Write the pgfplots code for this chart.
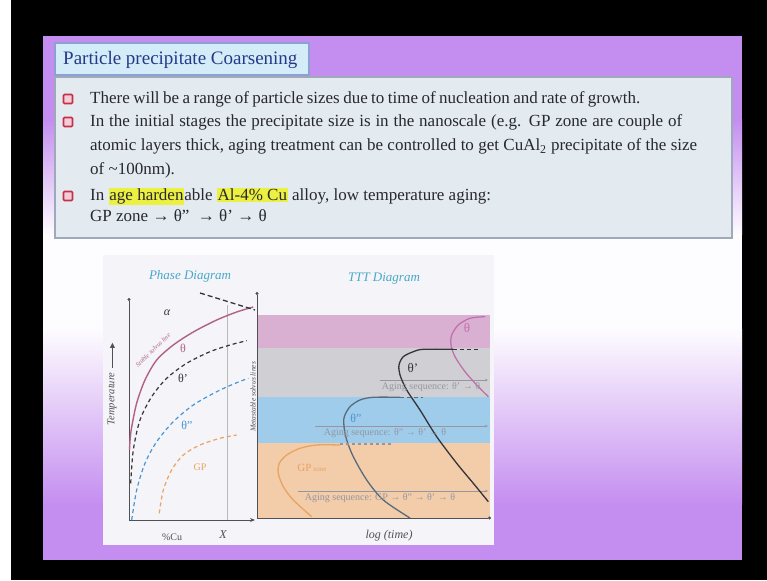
\documentclass[border=0pt]{standalone}
\usepackage{fontspec}
\setmainfont{Liberation Serif}
\newfontfamily\symfont{DejaVu Sans}
\usepackage{xcolor}
\usepackage{pgfplots}
\pgfplotsset{compat=1.18}
\usetikzlibrary{arrows.meta}

\definecolor{slidepurple}{RGB}{196,142,240}
\definecolor{boxfill}{RGB}{227,234,240}
\definecolor{boxline}{RGB}{160,168,188}
\definecolor{titlefill}{RGB}{212,236,248}
\definecolor{titleline}{RGB}{140,160,212}
\definecolor{titletext}{RGB}{38,56,136}
\definecolor{bodytext}{RGB}{40,40,46}
\definecolor{bulletred}{RGB}{196,48,72}
\definecolor{bulletfill}{RGB}{246,204,214}
\definecolor{hl}{RGB}{236,240,64}
\definecolor{panel}{RGB}{245,244,248}
\definecolor{axisgray}{RGB}{80,80,86}
\definecolor{solvus}{RGB}{176,98,134}
\definecolor{thetap}{RGB}{52,52,58}
\definecolor{thetapp}{RGB}{72,150,212}
\definecolor{gpcol}{RGB}{232,164,96}
\definecolor{bandpink}{RGB}{218,176,210}
\definecolor{bandgray}{RGB}{208,208,212}
\definecolor{bandblue}{RGB}{158,204,234}
\definecolor{bandorange}{RGB}{243,204,170}
\definecolor{tttpink}{RGB}{192,112,172}
\definecolor{tttslate}{RGB}{88,108,124}
\definecolor{agegray}{RGB}{150,150,158}
\definecolor{diagtitle}{RGB}{70,168,200}

\newcommand\bodyfont{\fontsize{17}{20}\selectfont}
\setlength{\fboxsep}{0.8pt}

\begin{document}
\begin{tikzpicture}[x=1pt,y=1pt]
\path[use as bounding box] (0,0) rectangle (767,580);
\fill[black] (0,0) rectangle (767,580);
\fill[white] (0,0) rectangle (11,580);

% slide background
\fill[slidepurple] (43,460) rectangle (742,544);
\shade[top color=slidepurple, bottom color=white!97!slidepurple] (43,345) rectangle (742,460.5);
\fill[white!97!slidepurple] (43,250) rectangle (742,345.5);
\shade[top color=white!97!slidepurple, bottom color=slidepurple] (43,75) rectangle (742,250.5);
\fill[slidepurple] (43,20) rectangle (742,75.5);

% text box and title box
\filldraw[fill=boxfill, draw=boxline, line width=1.4pt] (55,342) rectangle (732,503);
\filldraw[fill=titlefill, draw=titleline, line width=1.4pt] (55,505) rectangle (309,537);
\node[anchor=base west, inner sep=0, text=titletext] at (63,515)
  {\fontsize{19}{22}\selectfont Particle precipitate Coarsening};

% bullets
\foreach \b in {476,453,379}
  \filldraw[fill=bulletfill, draw=bulletred, line width=1.6pt, rounded corners=1pt]
    (63.5,\b+0.5) rectangle (72.5,\b+9.5);

\begin{scope}[every node/.style={anchor=base west, inner sep=0, text=bodytext}]
\node at (90,476) {\bodyfont\makebox[550pt][s]{There will be a range of particle sizes due to time of nucleation and rate of growth.}};
\node at (90,453) {\bodyfont\makebox[592pt][s]{In the initial stages the precipitate size is in the nanoscale (e.g. GP zone are couple of}};
\node at (90,429) {\bodyfont\makebox[607pt][s]{atomic layers thick, aging treatment can be controlled to get CuAl\textsubscript{2} precipitate of the size}};
\node at (90,405) {\bodyfont of \textasciitilde100nm).};
\node at (90,379) {\bodyfont In \colorbox{hl}{age harden}able \colorbox{hl}{Al-4\% Cu} alloy, low temperature aging:};
\node at (90,358) {\bodyfont GP zone → θ'' \ → θ' → θ};
\end{scope}

% diagram panel
\fill[panel] (103,35) rectangle (494,325);

% titles and outer labels
\node[text=diagtitle] at (190,304) {\fontsize{13}{15}\selectfont\itshape Phase Diagram};
\node[text=diagtitle] at (384,301) {\fontsize{13}{15}\selectfont\itshape TTT Diagram};
\node[rotate=90, text=axisgray] at (112,196) {\fontsize{10.5}{12}\selectfont\itshape Temperature \,\rule[0.3ex]{22pt}{0.6pt}\kern-2pt{\upshape\symfont\fontsize{7}{8}\selectfont ▶}};
\node[text=axisgray] at (172,43) {\fontsize{10}{11}\selectfont \%Cu};
\node[text=axisgray] at (223,45) {\fontsize{12}{13}\selectfont\itshape X};
\node[text=axisgray] at (389,44) {\fontsize{12}{13}\selectfont\itshape log (time)};

% phase diagram: composition against temperature
\begin{axis}[
  at={(129pt,60pt)}, anchor=south west,
  scale only axis, width=126pt, height=222pt,
  xmin=0, xmax=126, ymin=0, ymax=222,
  axis lines=left,
  axis line style={draw=axisgray, line width=0.9pt},
  x axis line style={-{Stealth[length=5pt,width=4pt]}},
  y axis line style={-{Circle[length=3pt]}},
  xtick=\empty, ytick=\empty, clip=false,
]
\addplot[gray!55, line width=0.5pt] coordinates {(98,0) (98,215)};
\addplot[solvus, line width=1.4pt, smooth] coordinates {
  (0.5,70) (1.2,82) (2.7,93) (7.7,117) (16,140) (27.7,160) (44.3,175)
  (64.3,188) (87.7,200) (107.7,208) (124.3,213)};
\addplot[thetap, line width=1.3pt, dash pattern=on 5pt off 3pt] coordinates {(71,227) (126,210)};
\addplot[thetap, line width=1.2pt, dash pattern=on 4pt off 3pt, smooth] coordinates {
  (1.7,36.7) (4.3,70) (11,100) (22.7,123.3) (37.7,141.7) (57.7,156.7)
  (81,168.3) (101,175) (117.7,179.3)};
\addplot[thetapp, line width=1.2pt, dash pattern=on 4pt off 3pt, smooth] coordinates {
  (2.7,0) (7.7,30) (16,56.7) (27.7,78.3) (44.3,98.3) (64.3,115)
  (87.7,128.3) (107.7,137.3) (119.3,141.7)};
\addplot[gpcol, line width=1.2pt, dash pattern=on 4pt off 3pt, smooth] coordinates {
  (30.3,6.7) (34.3,30) (42.7,50) (54.3,65) (71,75) (91,81.7) (107.7,85)};
\node[text=thetap] at (axis cs:38,207) {\fontsize{12}{13}\selectfont\itshape α};
\node[text=solvus, rotate=44, inner sep=0] at (axis cs:24,170) {\fontsize{6.5}{7}\selectfont\itshape Stable solvus line};
\node[text=solvus] at (axis cs:54,172) {\fontsize{12}{13}\selectfont θ};
\node[text=thetap] at (axis cs:54,142) {\fontsize{12}{13}\selectfont θ'};
\node[text=thetapp] at (axis cs:58,95) {\fontsize{12}{13}\selectfont θ''};
\node[text=gpcol] at (axis cs:71,53) {\fontsize{10}{11}\selectfont GP};
\node[text=axisgray, rotate=90] at (axis cs:124,123) {\fontsize{7.5}{8}\selectfont\itshape Metastable solvus lines};
\end{axis}

% TTT diagram: log time against temperature
\begin{axis}[
  at={(257pt,62pt)}, anchor=south west,
  scale only axis, width=234pt, height=226pt,
  xmin=0, xmax=234, ymin=0, ymax=226,
  axis lines=left, axis on top,
  axis line style={draw=axisgray, line width=0.9pt},
  x axis line style={-{Circle[length=3pt]}},
  y axis line style={-{Circle[length=3pt]}},
  xtick=\empty, ytick=\empty, clip=false,
]
\addplot[draw=none, fill=bandpink] coordinates {(0,170) (233,170) (233,203) (0,203)};
\addplot[draw=none, fill=bandgray] coordinates {(0,121) (233,121) (233,170) (0,170)};
\addplot[draw=none, fill=bandblue] coordinates {(0,75) (233,75) (233,121) (0,121)};
\addplot[draw=none, fill=bandorange] coordinates {(0,0) (233,0) (233,75) (0,75)};
% aging-sequence levels
\addplot[agegray, line width=0.5pt, -{Stealth[length=3pt,width=2.5pt]}] coordinates {(123,138) (231,138)};
\addplot[agegray, line width=0.5pt, -{Stealth[length=3pt,width=2.5pt]}] coordinates {(58,92) (231,92)};
\addplot[agegray, line width=0.5pt, -{Stealth[length=3pt,width=2.5pt]}] coordinates {(41,27) (231,27)};
% C-curves
\addplot[tttpink, line width=1.3pt, smooth] coordinates {
  (228,201.3) (213,199.7) (201.3,193) (194.7,183) (194,173) (198,161.3)
  (208,146.3) (219.7,133) (231.3,121.3)};
\addplot[thetap, line width=1.3pt, smooth] coordinates {
  (196.3,168.7) (166.3,168.7) (156.3,166.3) (146.3,161.3) (142,153) (143,143)
  (149.7,128) (163,108) (179.7,81.3) (199.7,54.7) (216.3,34.7) (231.3,16.3)};
\addplot[thetap, line width=1.3pt, dash pattern=on 4pt off 3pt] coordinates {(196.3,168.7) (223,168.7)};
\addplot[tttslate, line width=1.3pt, smooth] coordinates {
  (143,120.7) (116.3,120.7) (103,118) (93,111.3) (87.3,101.3) (87,91.3)
  (89.7,78) (96.3,61.3) (109.7,38) (126.3,18) (153,0)};
\addplot[tttslate, line width=1.2pt, dash pattern=on 4pt off 3pt] coordinates {(143,120.7) (166,120.7)};
\addplot[gpcol, line width=1.3pt, smooth] coordinates {
  (83,73) (59.7,73) (43,69.7) (29.7,63) (22.3,54.7) (21.3,44.7)
  (26.3,31.3) (36.3,18) (54.7,1.3)};
\addplot[agegray, line width=1.1pt, dash pattern=on 3pt off 3pt] coordinates {(83,74) (136,74)};
% labels
\node[text=tttpink] at (axis cs:210,190) {\fontsize{13}{14}\selectfont θ};
\node[text=thetap] at (axis cs:156,150) {\fontsize{13}{14}\selectfont θ'};
\node[text=thetapp] at (axis cs:99,100) {\fontsize{12}{13}\selectfont θ''};
\node[text=gpcol] at (axis cs:55,50) {\fontsize{11}{12}\selectfont GP\,{\fontsize{7}{8}\selectfont zone}};
\node[text=agegray] at (axis cs:174,131) {\fontsize{10}{11}\selectfont Aging sequence: θ' → θ};
\node[text=agegray] at (axis cs:128,85) {\fontsize{10}{11}\selectfont Aging sequence: θ'' → θ' → θ};
\node[text=agegray] at (axis cs:123,20) {\fontsize{10}{11}\selectfont Aging sequence: GP → θ'' → θ' → θ};
\end{axis}
\end{tikzpicture}
\end{document}
